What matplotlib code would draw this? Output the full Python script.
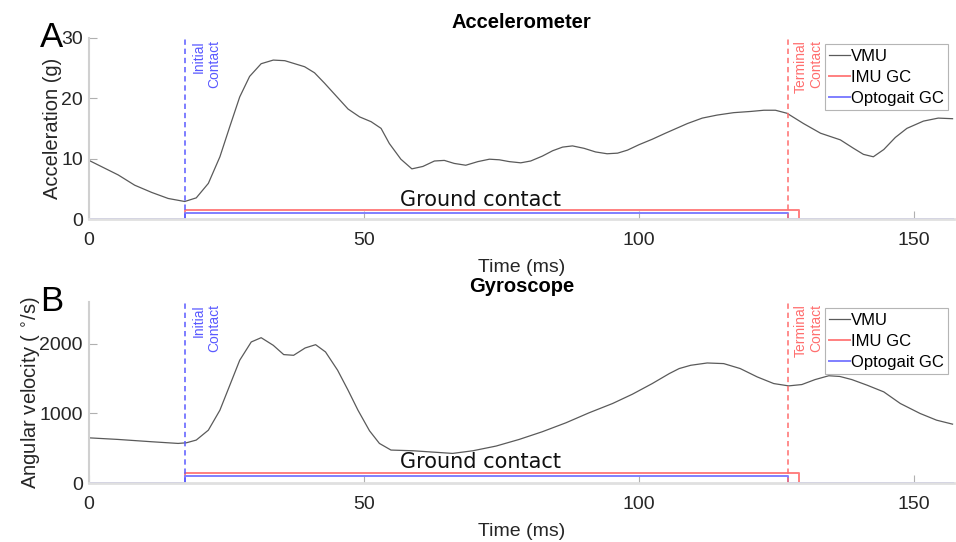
import matplotlib
matplotlib.use("Agg")
import matplotlib.pyplot as plt
from matplotlib.transforms import offset_copy

plt.rcParams['font.family'] = ['Liberation Sans', 'DejaVu Sans']

# ---------------- data ----------------
acc_t = [0, 5.3, 8.3, 11.4, 14.4, 17.4, 19.5, 21.7, 23.8, 25.6, 27.4, 29.2, 31.3, 33.5, 35.6,
         39.2, 41.0, 42.8, 45.3, 47.1, 49.2, 51.3, 53.1, 54.6, 56.7, 58.7, 60.7, 62.8, 64.6,
         66.4, 68.5, 70.7, 72.8, 74.6, 76.4, 78.5, 80.3, 82.4, 84.3, 86.1, 87.9, 90.0, 92.1,
         94.2, 96.1, 97.9, 100.0, 102.4, 104.8, 107.3, 108.8, 111.5, 114.2, 117.2, 120.3,
         122.7, 124.8, 126.9, 129.9, 133.0, 136.6, 139.0, 140.8, 142.6, 144.5, 146.6, 148.7,
         151.7, 154.4, 157.0]
acc_vmu = [9.7, 7.3, 5.6, 4.4, 3.4, 2.9, 3.5, 5.9, 10.3, 15.3, 20.2, 23.6, 25.7, 26.3, 26.2,
           25.2, 24.2, 22.5, 20.0, 18.2, 16.9, 16.1, 15.0, 12.5, 9.9, 8.3, 8.7, 9.6, 9.7,
           9.2, 8.9, 9.5, 9.9, 9.8, 9.5, 9.3, 9.6, 10.4, 11.3, 11.9, 12.1, 11.7, 11.1,
           10.8, 10.9, 11.4, 12.3, 13.2, 14.2, 15.2, 15.8, 16.7, 17.2, 17.6, 17.8,
           18.0, 18.0, 17.5, 15.8, 14.2, 13.1, 11.7, 10.7, 10.3, 11.5, 13.5, 15.0,
           16.2, 16.7, 16.6]

gyr_t = [0, 5.3, 11.4, 16.2, 17.7, 19.5, 21.7, 23.8, 25.6, 27.4, 29.5, 31.3, 33.5, 35.4, 37.2,
         39.3, 41.2, 43.0, 45.2, 47.1, 48.9, 51.0, 52.8, 54.9, 58.9, 62.5, 66.1, 69.8, 74.0,
         78.2, 82.4, 86.7, 90.9, 95.2, 98.8, 102.4, 105.5, 107.3, 109.4, 112.4, 115.4, 118.4,
         121.5, 124.5, 127.2, 129.6, 132.0, 134.5, 136.5, 138.7, 141.5, 144.5, 147.5, 151.1,
         154.1, 157.0]
gyr_vmu = [651, 628, 595, 571, 580, 619, 761, 1047, 1404, 1762, 2024, 2085, 1976, 1843, 1833,
           1938, 1985, 1881, 1619, 1333, 1047, 752, 571, 476, 466, 447, 428, 466, 533,
           628, 738, 866, 1009, 1143, 1276, 1428, 1571, 1643, 1690, 1723, 1714, 1643,
           1523, 1428, 1395, 1414, 1485, 1540, 1530, 1485, 1404, 1309, 1143, 1000,
           904, 847]

gc_t = [0, 17.5, 17.5, 127.0, 127.0, 157.0]
imu_gc_t = [0, 17.5, 17.5, 129.0, 129.0, 157.0]
acc_imu_gc = [0, 0, 1.5, 1.5, 0, 0]
acc_opto_gc = [0, 0, 1.0, 1.0, 0, 0]
gyr_imu_gc = [0, 0, 150, 150, 0, 0]
gyr_opto_gc = [0, 0, 100, 100, 0, 0]

initial_contact = 17.5
terminal_contact = 127.0

# ---------------- figure ----------------
fig = plt.figure(figsize=(9.56, 5.42), dpi=100)
ax1 = fig.add_axes([0.0931, 0.5959, 0.905, 0.3345])
ax2 = fig.add_axes([0.0931, 0.1083, 0.905, 0.335])

vmu_col = '#5a5a5a'
imu_col = '#ff8080'
opto_col = '#7f7fff'
ic_col = '#5a5aff'
tc_col = '#ff6e6e'
axis_gray = '#262626'

panels = [
    (ax1, acc_t, acc_vmu, acc_imu_gc, acc_opto_gc, (0, 30), [0, 10, 20, 30],
     'Acceleration (g)', 'Accelerometer', 'A', 2.15, -0.0316),
    (ax2, gyr_t, gyr_vmu, gyr_imu_gc, gyr_opto_gc, (0, 2600), [0, 1000, 2000],
     'Angular velocity ( $^{\\circ}$/s)', 'Gyroscope', 'B', 223, -0.0543),
]

for ax, t, vmu, imu, opto, ylim, yticks, ylabel, title, letter, gc_y, ylab_x in panels:
    ax.plot(t, vmu, color=vmu_col, lw=0.9, label='VMU')
    ax.plot(imu_gc_t, imu, color=imu_col, lw=1.4, label='IMU GC')
    ax.plot(gc_t, opto, color=opto_col, lw=1.4, label='Optogait GC')
    ax.axvline(initial_contact, color=ic_col, ls=(0, (3.5, 2.5)), lw=1.1)
    ax.axvline(terminal_contact, color=tc_col, ls=(0, (3.5, 2.5)), lw=1.1)
    ax.set_xlim(0, 157.3)
    ax.set_ylim(*ylim)
    ax.set_yticks(yticks)
    ax.set_xticks([0, 50, 100, 150])
    for s in ['top', 'right']:
        ax.spines[s].set_visible(False)
    ax.spines['left'].set_color('#d0d0d0')
    ax.spines['left'].set_linewidth(1.5)
    ax.spines['bottom'].set_color('#e0e0e0')
    ax.spines['bottom'].set_linewidth(2.0)
    ax.tick_params(direction='in', length=6, width=0.8, color='#b0b0b0',
                   labelsize=14, labelcolor=axis_gray)
    ax.tick_params(axis='x', pad=9.5)
    ax.tick_params(axis='y', pad=4.5)
    ax.set_xlabel('Time (ms)', fontsize=14, color=axis_gray, labelpad=7)
    ax.set_ylabel(ylabel, fontsize=14.5, color=axis_gray)
    ax.yaxis.set_label_coords(ylab_x, 0.5)
    ax.set_title(title, fontsize=14.5, fontweight='bold', pad=7)
    tr1 = offset_copy(ax.get_xaxis_transform(), fig=fig, x=4.5, y=0, units='points')
    ax.text(initial_contact, 0.985, 'Initial\nContact', transform=tr1, rotation=90,
            ha='left', va='top', multialignment='right', fontsize=10, color=ic_col,
            linespacing=1.15)
    ax.text(terminal_contact, 0.985, 'Terminal\nContact', transform=tr1, rotation=90,
            ha='left', va='top', multialignment='right', fontsize=10, color=tc_col,
            linespacing=1.15)
    ax.text(71.1, gc_y, 'Ground contact', fontsize=15, family='DejaVu Sans',
            ha='center', va='baseline', color='#111111')
    ax.text(-0.03, 1.0, letter, transform=ax.transAxes, fontsize=25,
            ha='right', va='center', color='black')
    leg = ax.legend(loc='upper right', bbox_to_anchor=(0.993, 0.963), fontsize=12,
                    handlelength=1.25, handletextpad=0.05, labelspacing=0.38,
                    borderpad=0.25, borderaxespad=0, fancybox=False, framealpha=1,
                    edgecolor='#b5b5b5')
    leg.get_frame().set_linewidth(0.8)

fig.savefig('out.png', dpi=100)
